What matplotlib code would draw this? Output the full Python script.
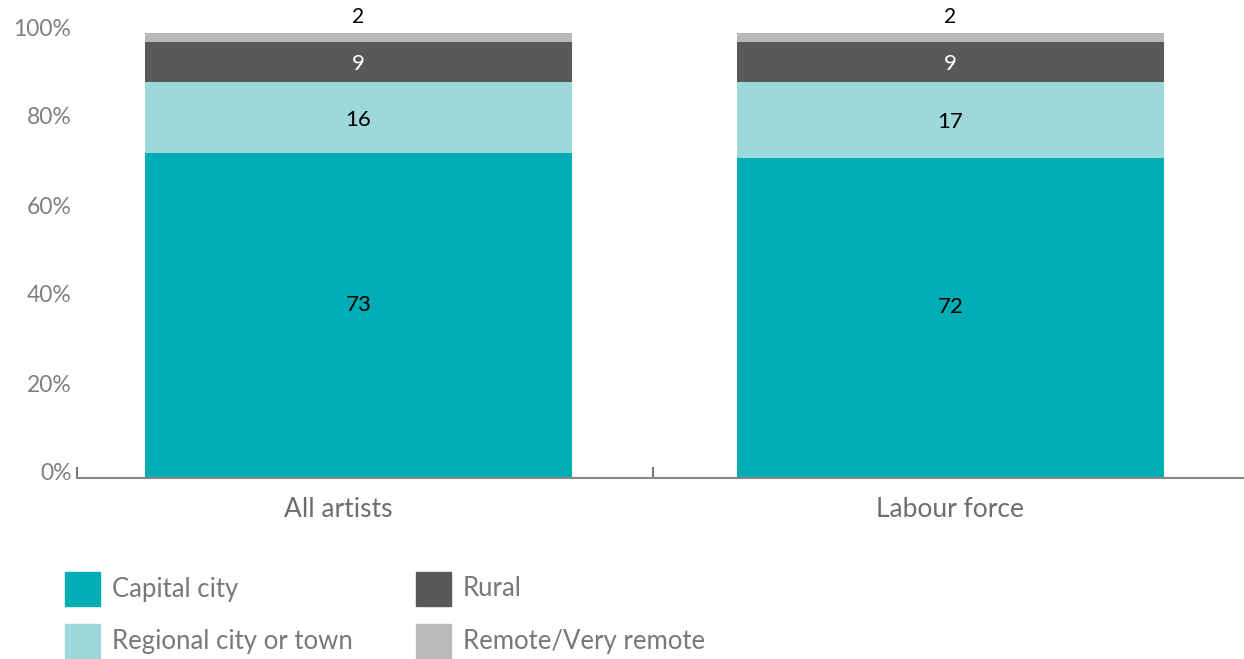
import matplotlib.pyplot as plt
import matplotlib.transforms as mtransforms
from matplotlib.patches import Rectangle

plt.rcParams['font.family'] = ['Lato', 'DejaVu Sans']

groups = ['All artists', 'Labour force']
capital = [73, 72]
regional = [16, 17]
rural = [9, 9]
remote = [2, 2]

series = [
    ('Capital city', capital, '#00adb4', 'black'),
    ('Regional city or town', regional, '#9dd8da', 'black'),
    ('Rural', rural, '#58595b', 'white'),
    ('Remote/Very remote', remote, '#b8b9bb', 'black'),
]

fig = plt.figure(figsize=(12.44, 6.59), dpi=100)
ax = fig.add_axes([77 / 1244, 181 / 659, 1 - 77 / 1244, 445 / 659])

x = range(len(groups))
bottom = [0, 0]
for name, vals, col, tcol in series:
    ax.bar(x, vals, width=0.72, bottom=bottom, color=col, label=name)
    for i, (b, v) in enumerate(zip(bottom, vals)):
        if name.startswith('Remote'):
            ax.text(i, b + v + 1.3, str(v), ha='center', va='bottom',
                    fontsize=15, color='black', clip_on=False)
        else:
            # the big segment label sits a little above centre
            yy = b + v / 2 + (2.4 if b == 0 else -0.5)
            ax.text(i, yy, str(v), ha='center', va='center',
                    fontsize=16, color=tcol)
    bottom = [b + v for b, v in zip(bottom, vals)]

ax.set_xlim(-0.4755, 1.4958)
ax.set_ylim(0, 100)

for s in ['top', 'right', 'left']:
    ax.spines[s].set_visible(False)
ax.spines['bottom'].set_color('#888888')
ax.spines['bottom'].set_linewidth(1.5)

ax.set_yticks(range(0, 101, 20))
ax.set_yticklabels([f'{v}%' for v in range(0, 101, 20)])
ax.tick_params(axis='y', length=0, pad=4, labelsize=16.5, labelcolor='#808080')
shift = mtransforms.ScaledTranslation(0, 6 / 100, fig.dpi_scale_trans)
for lab in ax.get_yticklabels():
    lab.set_transform(lab.get_transform() + shift)

ax.set_xticks(list(x))
ax.set_xticklabels(groups)
ax.tick_params(axis='x', which='major', length=0, pad=14, labelsize=19,
               labelcolor='#6d6e71')
xl = ax.get_xticklabels()
xl[0].set_transform(xl[0].get_transform() +
                    mtransforms.ScaledTranslation(-0.2, 0, fig.dpi_scale_trans))
ax.set_xticks([-0.4755, 0.497], minor=True)
ax.tick_params(axis='x', which='minor', direction='in', length=8,
               width=1.5, color='#777777')

# legend drawn by hand in figure pixels
legend_pos = [(65, 572), (65, 624), (416, 572), (416, 624)]
for (name, vals, col, tcol), (px, py) in zip(series, legend_pos):
    fig.add_artist(Rectangle((px / 1244, 1 - (py + 34) / 659), 35 / 1244, 34 / 659,
                             transform=fig.transFigure, color=col))
    fig.text((px + 47) / 1244, 1 - (py + 17) / 659, name, fontsize=18.5,
             color='#77787b', va='center', ha='left')

fig.savefig('out.png', dpi=100)
